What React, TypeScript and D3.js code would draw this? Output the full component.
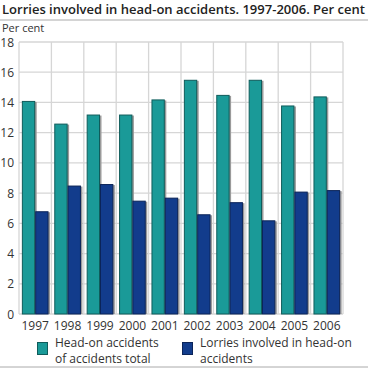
import React from "react";
import * as d3 from "d3";

const years = ["1997", "1998", "1999", "2000", "2001", "2002", "2003", "2004", "2005", "2006"];
const headOnTotal = [14.1, 12.6, 13.2, 13.2, 14.2, 15.5, 14.5, 15.5, 13.8, 14.4];
const lorriesHeadOn = [6.8, 8.5, 8.6, 7.5, 7.7, 6.6, 7.4, 6.2, 8.1, 8.2];
const yTicks = [0, 2, 4, 6, 8, 10, 12, 14, 16, 18];

const seriesNames = ["Head-on accidents|of accidents total", "Lorries involved in head-on|accidents"];
const colors = ["#1a9a98", "#123c8c"];
const strokes = ["#0f5c5b", "#0b2459"];

const W = 368;
const H = 369;
const font = "'Open Sans', 'DejaVu Sans', sans-serif";

export default function App() {
  const plot = { left: 19, right: 343, top: 42, bottom: 314 };

  const x = d3.scaleBand<string>().domain(years).range([plot.left, plot.right]).paddingInner(0).paddingOuter(0);
  const y = d3.scaleLinear().domain([0, 18]).range([plot.bottom, plot.top]);
  const inner = d3.scaleBand<number>().domain([0, 1]).range([0, x.bandwidth()]).paddingOuter(0.215).paddingInner(0);

  const series = [headOnTotal, lorriesHeadOn];

  return (
    <svg width={W} height={H} style={{ position: "absolute", left: 0, top: 0, background: "#fff" }} fontFamily={font}>
      <text x={2} y={14} fontSize={12.7} fontWeight={600} fill="#222" textLength={363} lengthAdjust="spacingAndGlyphs">
        Lorries involved in head-on accidents. 1997-2006. Per cent
      </text>
      <line x1={0} x2={W} y1={20} y2={20} stroke="#aaa" strokeWidth={1} />
      <text x={2} y={32} fontSize={11} fill="#333">Per cent</text>

      {/* grid */}
      {yTicks.map(t => (
        <line key={"h" + t} x1={plot.left} x2={plot.right} y1={y(t)} y2={y(t)} stroke="#d6d6d6" strokeWidth={1.3} />
      ))}
      {years.map(yr => (
        <line key={"v" + yr} x1={x(yr)!} x2={x(yr)!} y1={plot.top} y2={plot.bottom} stroke="#d6d6d6" strokeWidth={1.3} />
      ))}
      <line x1={plot.right} x2={plot.right} y1={plot.top} y2={plot.bottom} stroke="#d6d6d6" strokeWidth={1.3} />

      {yTicks.map(t => (
        <text key={"t" + t} x={14} y={y(t) + 4.5} fontSize={12} textAnchor="end" fill="#333">{t}</text>
      ))}

      {/* bars */}
      {series.map((vals, si) =>
        vals.map((v, i) => {
          const bx = (x(years[i]) ?? 0) + (inner(si) ?? 0);
          const bw = inner.bandwidth();
          const by = y(v);
          const bh = y(0) - by;
          return (
            <g key={si + "-" + i}>
              <rect x={bx + 1.5} y={by + 1} width={bw} height={bh - 1} fill="#9a9a9a" />
              <rect x={bx + 0.5} y={by + 0.5} width={bw - 1} height={bh - 0.5} fill={colors[si]} stroke={strokes[si]} strokeWidth={1} />
            </g>
          );
        })
      )}

      {years.map(yr => (
        <text key={"x" + yr} x={(x(yr) ?? 0) + x.bandwidth() / 2} y={330} fontSize={12} textAnchor="middle" fill="#333">{yr}</text>
      ))}

      {/* legend */}
      {seriesNames.map((name, si) => {
        const lx = si === 0 ? 37 : 182;
        return (
          <g key={"l" + si}>
            <rect x={lx + 0.5} y={342.5} width={10} height={12} fill={colors[si]} stroke={strokes[si]} strokeWidth={1} />
            {name.split("|").map((line, li) => (
              <text key={li} x={lx + 18} y={347 + li * 16} fontSize={12} fill="#333">{line}</text>
            ))}
          </g>
        );
      })}
      <line x1={0} x2={W} y1={367} y2={367} stroke="#aaa" strokeWidth={1} />
    </svg>
  );
}
